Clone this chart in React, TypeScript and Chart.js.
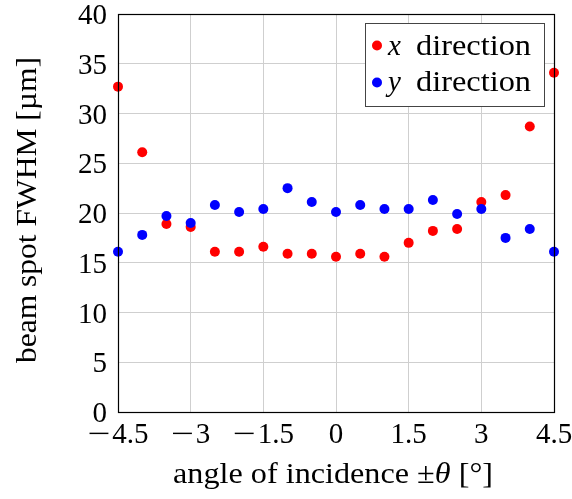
import React, { useEffect, useRef } from 'react';
import { Chart, registerables } from 'chart.js';

Chart.register(...registerables);

const angles = [-4.5, -4, -3.5, -3, -2.5, -2, -1.5, -1, -0.5, 0, 0.5, 1, 1.5, 2, 2.5, 3, 3.5, 4, 4.5];
const xDirection = [32.7, 26.1, 18.9, 18.6, 16.1, 16.1, 16.6, 15.9, 15.9, 15.6, 15.9, 15.6, 17.0, 18.2, 18.4, 21.1, 21.8, 28.7, 34.1];
const yDirection = [16.1, 17.8, 19.7, 19.0, 20.8, 20.1, 20.4, 22.5, 21.1, 20.1, 20.8, 20.4, 20.4, 21.3, 19.9, 20.4, 17.5, 18.4, 16.1];
const xTicks = [-4.5, -3, -1.5, 0, 1.5, 3, 4.5];
const yTicks = [0, 5, 10, 15, 20, 25, 30, 35, 40];
const seriesNames = ['direction', 'direction'];
const seriesSymbols = ['x', 'y'];
const seriesColors = ['#ff0000', '#0000ff'];
const xTitleParts = ['angle of incidence ±', 'θ', ' [°]'];
const yTitle = 'beam spot FWHM [µm]';

const SERIF = '"Liberation Serif", "Times New Roman", serif';
const FS = 29;

type Part = [string, string, number?];

function drawParts(
  ctx: CanvasRenderingContext2D,
  parts: Part[],
  x: number,
  y: number,
  align: 'left' | 'center' | 'right',
  targetWidth?: number,
  gap = 0
) {
  const widths = parts.map(([t, f, k]) => {
    ctx.font = f;
    return ctx.measureText(t).width * (k ?? 1);
  });
  const natural = widths.reduce((s, w) => s + w, 0) + gap * (parts.length - 1);
  const sx = targetWidth ? targetWidth / natural : 1;
  const total = natural * sx;
  const x0 = align === 'left' ? x : align === 'center' ? x - total / 2 : x - total;
  ctx.save();
  ctx.translate(x0, y);
  ctx.scale(sx, 1);
  ctx.textAlign = 'left';
  ctx.textBaseline = 'alphabetic';
  let cx = 0;
  parts.forEach(([t, f, k], i) => {
    ctx.font = f;
    ctx.save();
    ctx.translate(cx, 0);
    ctx.scale(k ?? 1, 1);
    ctx.fillText(t, 0, 0);
    ctx.restore();
    cx += widths[i] + gap;
  });
  ctx.restore();
}

function tickParts(v: number): Part[] {
  const s = String(Math.abs(v));
  if (v < 0) return [['\u2212', `${FS}px ${SERIF}`, 1.4], [s, `${FS}px ${SERIF}`]];
  return [[s, `${FS}px ${SERIF}`]];
}

export default function App() {
  const ref = useRef<HTMLCanvasElement | null>(null);

  useEffect(() => {
    document.body.style.margin = '0';
    const canvas = ref.current;
    if (!canvas) return;

    const decor = {
      id: 'decor',
      afterDraw(chart: any) {
        const ctx = chart.ctx as CanvasRenderingContext2D;
        const a = chart.chartArea;
        const xs = chart.scales.x;
        const ys = chart.scales.y;
        ctx.save();
        // frame
        ctx.strokeStyle = '#000';
        ctx.lineWidth = 1.2;
        ctx.strokeRect(Math.round(a.left) + 0.5, Math.round(a.top) + 0.5, Math.round(a.right - a.left), Math.round(a.bottom - a.top));

        ctx.fillStyle = '#000';
        // x tick labels
        xTicks.forEach((v) => {
          const px = xs.getPixelForValue(v);
          drawParts(ctx, tickParts(v), px, a.bottom + 31, 'center', undefined, v < 0 ? 2 : 0);
        });
        // y tick labels
        yTicks.forEach((v) => {
          const py = ys.getPixelForValue(v);
          drawParts(ctx, tickParts(v), a.left - 11, py + 10, 'right');
        });

        // legend
        const lx = 365, ly = 23, lw = 179, lh = 83;
        ctx.fillStyle = '#fff';
        ctx.fillRect(lx, ly, lw, lh);
        ctx.strokeStyle = '#444';
        ctx.lineWidth = 1;
        ctx.strokeRect(lx + 0.5, ly + 0.5, lw, lh);
        const dotY = [45.5, 82.5];
        const baseY = [55, 91];
        for (let i = 0; i < 2; i++) {
          ctx.fillStyle = seriesColors[i];
          ctx.beginPath();
          ctx.arc(377, dotY[i], 5, 0, Math.PI * 2);
          ctx.fill();
          ctx.fillStyle = '#000';
          drawParts(ctx, [[seriesSymbols[i], `italic ${FS}px ${SERIF}`]], 388, baseY[i], 'left');
          drawParts(ctx, [[seriesNames[i], `${FS}px ${SERIF}`]], 416, baseY[i], 'left', 115);
        }

        // x title
        ctx.fillStyle = '#000';
        drawParts(
          ctx,
          [
            [xTitleParts[0], `${FS}px ${SERIF}`],
            [xTitleParts[1], `italic ${FS}px ${SERIF}`],
            [xTitleParts[2], `${FS}px ${SERIF}`],
          ],
          333,
          483,
          'center',
          320
        );

        // y title
        ctx.save();
        ctx.translate(36, 210);
        ctx.rotate(-Math.PI / 2);
        drawParts(ctx, [[yTitle, `${FS}px ${SERIF}`]], 0, 0, 'center', 306);
        ctx.restore();

        ctx.restore();
      },
    };

    const zeroPad = (s: any) => {
      s.paddingTop = 0;
      s.paddingBottom = 0;
      s.paddingLeft = 0;
      s.paddingRight = 0;
    };

    const chart = new Chart(canvas, {
      type: 'scatter',
      data: {
        datasets: [
          {
            label: seriesSymbols[0] + ' ' + seriesNames[0],
            data: angles.map((a, i) => ({ x: a, y: xDirection[i] })),
            backgroundColor: seriesColors[0],
            borderColor: seriesColors[0],
            pointRadius: 5,
            pointBorderWidth: 0,
            order: 1,
            clip: false as any,
          },
          {
            label: seriesSymbols[1] + ' ' + seriesNames[1],
            data: angles.map((a, i) => ({ x: a, y: yDirection[i] })),
            backgroundColor: seriesColors[1],
            borderColor: seriesColors[1],
            pointRadius: 5,
            pointBorderWidth: 0,
            order: 0,
            clip: false as any,
          },
        ],
      },
      options: {
        responsive: false,
        animation: false,
        devicePixelRatio: 1,
        layout: { padding: { left: 0, top: 14, right: 18, bottom: 0 } },
        plugins: {
          legend: { display: false },
          tooltip: { enabled: false },
        },
        scales: {
          x: {
            type: 'linear',
            min: -4.5,
            max: 4.5,
            afterBuildTicks: (s: any) => {
              s.ticks = xTicks.map((v) => ({ value: v }));
            },
            afterFit: (s: any) => {
              s.height = 87;
              zeroPad(s);
            },
            ticks: { display: false },
            grid: { color: '#cfcfcf', lineWidth: 1, drawTicks: false },
            border: { color: '#000', width: 1 },
          },
          y: {
            type: 'linear',
            min: 0,
            max: 40,
            afterBuildTicks: (s: any) => {
              s.ticks = yTicks.map((v) => ({ value: v }));
            },
            afterFit: (s: any) => {
              s.width = 118;
              zeroPad(s);
            },
            ticks: { display: false },
            grid: { color: '#cfcfcf', lineWidth: 1, drawTicks: false },
            border: { color: '#000', width: 1 },
          },
        },
      },
      plugins: [decor],
    });

    return () => chart.destroy();
  }, []);

  return (
    <div style={{ position: 'fixed', left: 0, top: 0, width: 572, height: 499, background: '#fff' }}>
      <canvas ref={ref} width={572} height={499} style={{ width: 572, height: 499, display: 'block' }} />
    </div>
  );
}
